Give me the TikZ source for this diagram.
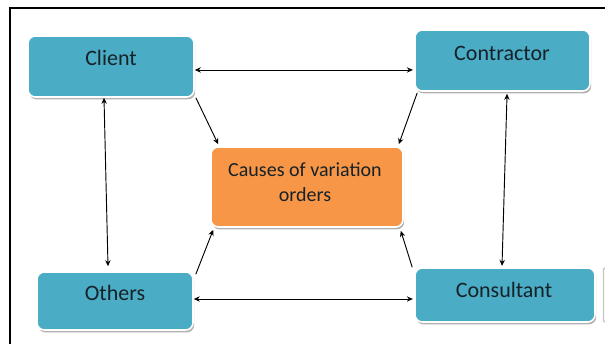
\documentclass[tikz,border=0pt]{standalone}
\usepackage{fontspec}
\setmainfont{Carlito}
\usetikzlibrary{arrows.meta,shadows,fit}
\definecolor{boxblue}{RGB}{75,172,198}
\definecolor{boxorange}{RGB}{247,150,70}
\definecolor{lbltext}{RGB}{22,34,40}
\tikzset{
  boxbase/.style={rectangle, rounded corners=5.5pt, inner sep=0pt, draw=white, line width=1.2pt,
    drop shadow={shadow xshift=0.9pt, shadow yshift=-1.8pt, fill=black, opacity=0.3}},
  bluebox/.style={boxbase, fill=boxblue},
  orangebox/.style={boxbase, fill=boxorange},
  lbl/.style={font=\fontsize{16.5}{19}\selectfont, text=lbltext, inner sep=0pt},
  clbl/.style={font=\fontsize{15}{18.75}\selectfont, text=lbltext, inner sep=0pt, align=center},
  link/.style={draw=black, line width=0.7pt},
  onearrow/.style={link, -{Stealth[length=4.5pt,width=4pt]}},
  twoarrow/.style={link, {Stealth[length=4.5pt,width=4pt]}-{Stealth[length=4.5pt,width=4pt]}}
}
\begin{document}
\begin{tikzpicture}[x=0.75pt,y=-0.75pt]
\useasboundingbox (0,0) rectangle (605,344);
% frame
\draw[line width=0.8pt] (10,344) -- (10,8) -- (605,8);
\draw[gray!45, line width=1pt, rounded corners=1pt] (605,268) -- (603.5,268) -- (603.5,322) -- (605,322);
% boxes
\node[bluebox, fit={(28,36)(194,97)}] (client) {};
\node[bluebox, fit={(415,30)(590,91)}] (contractor) {};
\node[orangebox, fit={(211,147)(403,227)}] (causes) {};
\node[bluebox, fit={(37,272)(193,330)}] (others) {};
\node[bluebox, fit={(415,268)(595,322)}] (consultant) {};
% labels
\node[lbl] (clientT) at (111,58) {Client};
\node[lbl] (contractorT) at (502,53) {Contractor};
\node[clbl] (causesT) at (305,182.5) {Causes of variation\\orders};
\node[lbl] (othersT) at (115,293) {Others};
\node[lbl] (consultantT) at (504,290) {Consultant};
% connectors
\draw[twoarrow] ([yshift=-2.6pt]client.east) -- ([yshift=-7.1pt,xshift=-1pt]contractor.west);
\draw[twoarrow] ([yshift=1.5pt]others.east) -- ([yshift=-3pt,xshift=-1pt]consultant.west);
\draw[twoarrow] ([xshift=-5.25pt]client.south) -- ([xshift=-5.25pt,yshift=3.75pt]others.north);
\draw[twoarrow] ([xshift=3.4pt,yshift=-1.5pt]contractor.south) -- ([xshift=-2.25pt,yshift=1pt]consultant.north);
\draw[onearrow] ([xshift=0.8pt]client.south east) -- ([xshift=6pt,yshift=1.5pt]causes.north west);
\draw[onearrow] ([xshift=2.25pt,yshift=-0.8pt]contractor.south west) -- ([xshift=-3.75pt,yshift=1.5pt]causes.north east);
\draw[onearrow] ([xshift=1.5pt,yshift=-2.25pt]others.north east) -- ([xshift=2.25pt,yshift=-1.5pt]causes.south west);
\draw[onearrow] ([xshift=-1.5pt]consultant.north west) -- ([xshift=-2.25pt,yshift=-2.25pt]causes.south east);
\end{tikzpicture}
\end{document}
